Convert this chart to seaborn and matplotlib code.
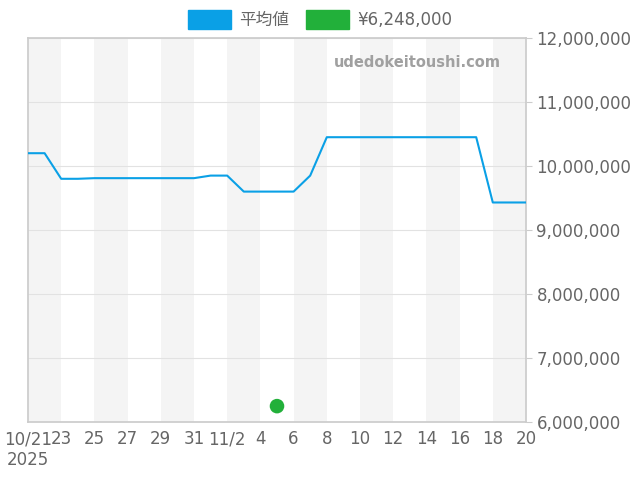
import numpy as np
import pandas as pd
import matplotlib
matplotlib.use("Agg")
import matplotlib.pyplot as plt
import matplotlib.patches as mpatches
import seaborn as sns

sns.set_theme(style="white")
plt.rcParams['font.family'] = ['DejaVu Sans', 'Noto Sans CJK JP']

# day index 0 = 10/21, 30 = 11/20
days = list(range(31))
avg_price = [10200000, 10200000, 9800000, 9800000, 9810000, 9810000, 9810000,
             9810000, 9810000, 9810000, 9810000, 9850000, 9850000, 9600000,
             9600000, 9600000, 9600000, 9850000, 10450000, 10450000, 10450000,
             10450000, 10450000, 10450000, 10450000, 10450000, 10450000, 10450000,
             9430000, 9430000, 9430000]
point_day = [15]
point_price = [6248000]
tick_labels = ["10/21\n2025", "23", "25", "27", "29", "31", "11/2", "4", "6",
               "8", "10", "12", "14", "16", "18", "20"]

df = pd.DataFrame({"day": days, "price": avg_price})

fig = plt.figure(figsize=(6.4, 4.8), dpi=100)
ax = fig.add_axes([28/640, 58/480, 498/640, 384/480])

for start in range(0, 30, 4):
    ax.axvspan(start, start + 2, color="#f4f4f4", zorder=0, lw=0)

sns.lineplot(data=df, x="day", y="price", ax=ax, color="#0aa0e6", lw=1.5, zorder=3)
sns.scatterplot(x=point_day, y=point_price, ax=ax, color="#22b03a", s=110,
                edgecolor="none", zorder=4)

ax.set_xlim(0, 30)
ax.set_ylim(6000000, 12000000)
ax.set_xticks(range(0, 31, 2))
ax.set_xticklabels(tick_labels)
ax.yaxis.tick_right()
ax.set_yticks(range(6000000, 12000001, 1000000))
ax.set_yticklabels([f"{v:,}" for v in range(6000000, 12000001, 1000000)])
ax.grid(axis="y", color="#e2e2e2", lw=0.8)
ax.set_axisbelow(True)
ax.tick_params(colors="#666666", labelsize=12, length=4, width=0.8, color="#cccccc")
ax.tick_params(axis="x", pad=2)
ax.set_xlabel("")
ax.set_ylabel("")
for s in ax.spines.values():
    s.set_color("#cccccc")

ax.text(0.95, 0.935, "udedokeitoushi.com", transform=ax.transAxes, ha="right",
        va="center", fontsize=10.5, fontweight="bold", color="#a0a0a0")

handles = [mpatches.Patch(color="#0aa0e6", label="平均値"),
           mpatches.Patch(color="#22b03a", label="¥6,248,000")]
fig.legend(handles=handles, loc="center", bbox_to_anchor=(0.5, 0.96), ncol=2,
           frameon=False, fontsize=12, handlelength=2.6, handleheight=1.4,
           labelcolor="#666666", columnspacing=1.0, handletextpad=0.5)

fig.savefig("out.png", dpi=100)
